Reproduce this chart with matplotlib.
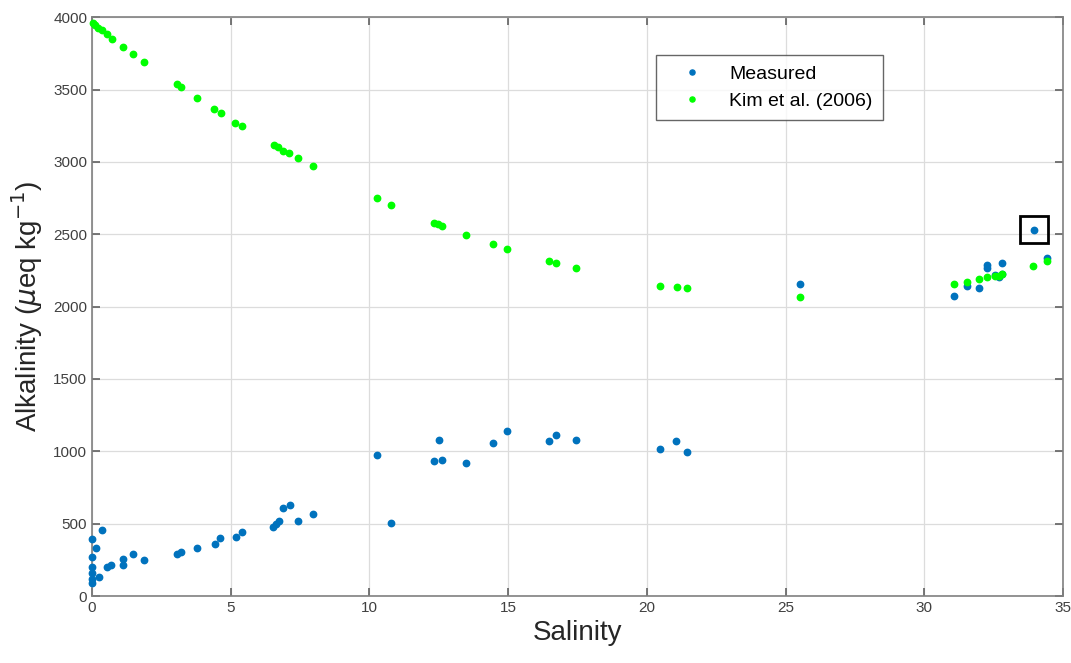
import matplotlib
matplotlib.use("Agg")
import matplotlib.pyplot as plt
from matplotlib.patches import Rectangle

plt.rcParams['font.family'] = ['Liberation Sans', 'DejaVu Sans']

# Measured alkalinity vs salinity
sal_meas = [0.01, 0.01, 0.01, 0.01, 0.01, 0.01, 0.13, 0.25, 0.37, 0.53, 0.68,
            1.13, 1.13, 1.47, 1.86, 3.06, 3.2, 3.79, 4.42, 4.63, 5.18, 5.4,
            6.54, 6.63, 6.74, 6.9, 7.13, 7.41, 7.97, 10.27, 10.78,
            12.34, 12.51, 12.6, 13.48, 14.47, 14.95, 16.47, 16.73, 17.45,
            20.49, 21.06, 21.45, 25.52,
            31.06, 31.53, 31.99, 32.25, 32.27, 32.55, 32.71, 32.79, 32.79,
            33.95, 34.44]
alk_meas = [396, 267, 203, 161, 115, 88, 334, 133, 455, 203, 212,
            253, 214, 288, 249, 292, 302, 334, 357, 398, 408, 440,
            479, 497, 518, 608, 627, 520, 569, 974, 504,
            933, 1078, 940, 916, 1055, 1142, 1068, 1112, 1078,
            1013, 1071, 997, 2155,
            2073, 2142, 2130, 2287, 2264, 2218, 2206, 2229, 2300,
            2533, 2333]

# Kim et al. (2006) estimate
sal_kim = [0.02, 0.11, 0.23, 0.35, 0.53, 0.71, 1.11, 1.47, 1.89, 3.05, 3.2,
           3.77, 4.41, 4.64, 5.16, 5.4, 6.56, 6.72, 6.9, 7.11, 7.41, 7.95,
           10.27, 10.79, 12.34, 12.48, 12.6, 13.48, 14.46, 14.96,
           16.47, 16.73, 17.45, 20.49, 21.08, 21.45, 25.52,
           31.06, 31.53, 31.99, 32.25, 32.55, 32.71, 32.79, 33.93, 34.44]
alk_kim = [3963, 3945, 3929, 3910, 3887, 3853, 3795, 3749, 3691, 3537, 3519,
           3440, 3369, 3335, 3272, 3247, 3118, 3100, 3077, 3060, 3028, 2971,
           2752, 2703, 2581, 2568, 2556, 2494, 2430, 2397,
           2316, 2300, 2268, 2146, 2133, 2126, 2066,
           2155, 2171, 2188, 2202, 2211, 2215, 2229, 2282, 2316]

# highlighted outlier
box_x = 33.95
box_y = 2533

fig = plt.figure(figsize=(10.71, 6.63), dpi=100)
ax = fig.add_axes([0.0859, 0.101, 0.9066, 0.873])

ax.plot(sal_meas, alk_meas, 'o', color='#0072BD', markersize=4.6,
        label='Measured', zorder=3, clip_on=False)
ax.plot(sal_kim, alk_kim, 'o', color='#00FF00', markersize=4.6,
        label='Kim et al. (2006)', zorder=3, clip_on=False)

ax.add_patch(Rectangle((box_x - 0.5, box_y - 93), 1.0, 186, fill=False,
                       edgecolor='black', linewidth=2, zorder=4))

ax.set_xlim(0, 35)
ax.set_ylim(0, 4000)
ax.set_xticks(range(0, 36, 5))
ax.set_yticks(range(0, 4001, 500))
ax.grid(True, color='#dcdcdc', linewidth=0.9)
ax.set_axisbelow(True)

for sp in ax.spines.values():
    sp.set_color('#808080')
    sp.set_linewidth(1.2)
ax.tick_params(direction='in', length=6, width=1.2, color='#606060',
               labelcolor='#404040', labelsize=11, top=True, right=True)

ax.set_xlabel('Salinity', fontsize=20, color='#262626', labelpad=4)
ax.set_ylabel(r'Alkalinity ($\mu$eq kg$^{-1}$)', fontsize=20,
              color='#262626', labelpad=6)

leg = ax.legend(loc='upper left', bbox_to_anchor=(0.581, 0.935),
                fontsize=14, frameon=True, fancybox=False,
                borderpad=0.55, handletextpad=0.6, handlelength=2.6,
                markerscale=0.8, borderaxespad=0, labelspacing=0.45)
leg.get_frame().set_edgecolor('#404040')
leg.get_frame().set_linewidth(1.0)

fig.savefig('out.png', dpi=100)
